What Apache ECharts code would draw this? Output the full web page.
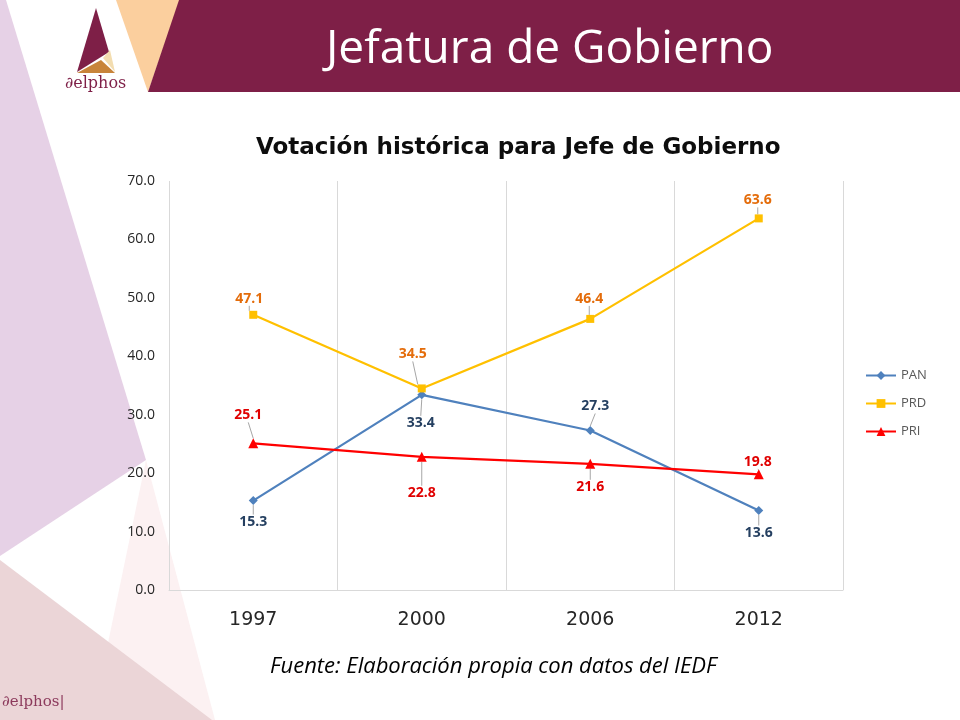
<!DOCTYPE html>
<html>
<head>
<meta charset="utf-8">
<script src="https://cdn.jsdelivr.net/npm/echarts@6/dist/echarts.min.js"></script>
<style>html,body{margin:0;padding:0;background:#fff}#main{width:960px;height:720px}</style>
</head>
<body>
<div id="main"></div>
<script>
// ---- data ----
const years = ['1997', '2000', '2006', '2012'];
const pan = [15.3, 33.4, 27.3, 13.6];
const prd = [47.1, 34.5, 46.4, 63.6];
const pri = [25.1, 22.8, 21.6, 19.8];
const seriesNames = ['PAN', 'PRD', 'PRI'];
const yTicks = { min: 0, max: 70, interval: 10 };

// ---- styling (label offsets relative to each point) ----
const labelOffsets = [
  [[0, 21], [-1, 28], [5, -24], [0, 22]],
  [[-4, -16], [-9, -34], [-1, -20], [-1, -18]],
  [[-5, -28], [0, 36], [0, 23], [-1, -12]]
];

const chart = echarts.init(document.getElementById('main'), null, { renderer: 'canvas' });

function mkSeries(idx, data, color, labelColor, symbol, size) {
  return {
    name: seriesNames[idx],
    type: 'line',
    data: data,
    symbol: symbol,
    symbolSize: size,
    showSymbol: true,
    lineStyle: { color: color, width: 2.25 },
    itemStyle: { color: color },
    z: 5 + idx,
    label: {
      show: true,
      position: 'inside',
      color: labelColor,
      fontFamily: 'Open Sans',
      fontWeight: 'bold',
      fontSize: 14,
      formatter: p => p.value.toFixed(1)
    },
    labelLine: { show: true, lineStyle: { color: '#a6a6a6', width: 1 } },
    labelLayout: function (p) {
      const o = labelOffsets[idx][p.dataIndex];
      return { dx: o[0], dy: o[1], hideOverlap: false };
    },
    emphasis: { disabled: true },
    animation: false
  };
}

const maroon = '#7E1F47';

const option = {
  backgroundColor: '#ffffff',
  animation: false,
  graphic: [
    // left lavender shape
    { type: 'polygon', z: -10, shape: { points: [[0, 0], [6, 0], [146, 460], [0, 556]] }, style: { fill: '#E6D1E6' } },
    // faint pink wedge
    { type: 'polygon', z: -10, shape: { points: [[146, 460], [92, 720], [215, 720]] }, style: { fill: '#FCF1F2' } },
    // bottom-left pink triangle
    { type: 'polygon', z: -9, shape: { points: [[0, 560], [212, 720], [0, 720]] }, style: { fill: '#EBD5D7' } },
    // peach triangle
    { type: 'polygon', z: -10, shape: { points: [[116, 0], [180, 0], [148, 92]] }, style: { fill: '#FBCF9E' } },
    // maroon banner
    { type: 'polygon', z: -9, shape: { points: [[179, 0], [960, 0], [960, 92], [148, 92]] }, style: { fill: maroon } },
    // logo
    { type: 'polygon', z: -8, shape: { points: [[96, 8], [109, 52], [77, 72]] }, style: { fill: maroon } },
    { type: 'polygon', z: -8, shape: { points: [[77, 73], [115, 73], [101, 60]] }, style: { fill: '#C8843A' } },
    { type: 'polygon', z: -8, shape: { points: [[103, 58], [110, 50], [115, 72]] }, style: { fill: '#F3DDB0' } },
    { type: 'text', z: -8, left: 65, top: 76, style: { text: '∂elphos', font: '16px "DejaVu Serif"', fill: maroon } },
    { type: 'text', z: -8, left: 2, top: 695, style: { text: '∂elphos|', font: '15px "DejaVu Serif"', fill: '#8C3A5C' } },
    // header title
    { type: 'text', z: 10, left: 326, top: 27, style: { text: 'Jefatura de Gobierno', font: '46px "Open Sans"', fill: '#ffffff' } },
    // chart title
    { type: 'text', z: 10, left: 256, top: 137, style: { text: 'Votación histórica para Jefe de Gobierno', font: 'bold 23px "DejaVu Sans"', fill: '#0d0d0d' } },
    // footer
    { type: 'text', z: 10, left: 270, top: 656, style: { text: 'Fuente: Elaboración propia con datos del IEDF', font: 'italic 22px "Open Sans"', fill: '#000000' } }
  ],
  legend: {
    orient: 'vertical',
    left: 860,
    top: 364,
    itemGap: 15,
    itemWidth: 30,
    itemHeight: 11,
    textStyle: { color: '#595959', fontSize: 13, fontFamily: 'Open Sans' },
    data: seriesNames
  },
  grid: { left: 169, right: 117, top: 181, bottom: 130, containLabel: false },
  xAxis: {
    type: 'category',
    data: years,
    boundaryGap: true,
    axisLine: { show: true, lineStyle: { color: '#D9D9D9', width: 1 } },
    axisTick: { show: false },
    splitLine: { show: true, lineStyle: { color: '#D9D9D9', width: 1 } },
    axisLabel: { color: '#262626', fontSize: 19, fontFamily: 'DejaVu Sans', margin: 21 }
  },
  yAxis: {
    type: 'value',
    min: yTicks.min,
    max: yTicks.max,
    interval: yTicks.interval,
    axisLine: { show: false },
    axisTick: { show: false },
    splitLine: { show: false },
    axisLabel: { color: '#262626', fontSize: 14, fontFamily: 'Open Sans', margin: 14, formatter: v => v.toFixed(1) }
  },
  series: [
    mkSeries(0, pan, '#4F81BD', '#243F60', 'diamond', 9),
    mkSeries(1, prd, '#FFC000', '#E46C0A', 'rect', 8),
    mkSeries(2, pri, '#FF0000', '#E00000', 'triangle', 10)
  ]
};
chart.setOption(option);
</script>
</body>
</html>
